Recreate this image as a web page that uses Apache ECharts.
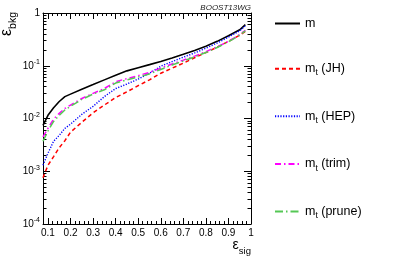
<!DOCTYPE html>
<html><head><meta charset="utf-8">
<script src="https://cdn.jsdelivr.net/npm/echarts@6/dist/echarts.min.js"></script>
<style>html,body{margin:0;padding:0;background:#fff}#c{width:407px;height:259px}</style>
</head><body><div id="c"></div>
<script>
// signal efficiency (x)
const effSig   = [0.078, 0.1, 0.125, 0.15, 0.175, 0.2, 0.25, 0.3, 0.35, 0.4, 0.45, 0.5, 0.55, 0.6, 0.65, 0.7, 0.75, 0.8, 0.85, 0.9, 0.95, 0.975];
// background efficiency (y) per tagger
const bkgM     = [0.0074, 0.0115, 0.016, 0.021, 0.026, 0.029, 0.036, 0.044, 0.054, 0.066, 0.080, 0.092, 0.105, 0.12, 0.14, 0.165, 0.195, 0.235, 0.29, 0.37, 0.48, 0.60];
const bkgJH    = [0.00075, 0.0013, 0.0019, 0.0028, 0.0038, 0.0055, 0.0085, 0.0128, 0.018, 0.025, 0.032, 0.042, 0.054, 0.072, 0.09, 0.112, 0.142, 0.178, 0.225, 0.29, 0.38, 0.45];
const bkgHEP   = [0.0013, 0.0022, 0.0037, 0.0048, 0.0065, 0.0078, 0.012, 0.017, 0.026, 0.037, 0.045, 0.056, 0.072, 0.098, 0.12, 0.145, 0.175, 0.215, 0.27, 0.35, 0.46, 0.57];
const bkgTrim  = [0.0045, 0.0065, 0.0098, 0.0125, 0.0155, 0.018, 0.024, 0.030, 0.037, 0.050, 0.057, 0.065, 0.075, 0.090, 0.108, 0.128, 0.152, 0.185, 0.23, 0.29, 0.39, 0.47];
const bkgPrune = [0.0037, 0.0058, 0.0088, 0.0115, 0.0145, 0.017, 0.023, 0.029, 0.035, 0.047, 0.054, 0.061, 0.070, 0.085, 0.103, 0.123, 0.147, 0.178, 0.222, 0.285, 0.38, 0.46];

const seriesNames = ['m', 'm_t (JH)', 'm_t (HEP)', 'm_t (trim)', 'm_t (prune)'];
const xMajor = [0.1, 0.2, 0.3, 0.4, 0.5, 0.6, 0.7, 0.8, 0.9, 1.0];
const xMinor = [0.08, 0.12, 0.14, 0.16, 0.18, 0.22, 0.24, 0.26, 0.28, 0.32, 0.34, 0.36, 0.38, 0.42, 0.44, 0.46, 0.48, 0.52, 0.54, 0.56, 0.58, 0.62, 0.64, 0.66, 0.68, 0.72, 0.74, 0.76, 0.78, 0.82, 0.84, 0.86, 0.88, 0.92, 0.94, 0.96, 0.98];
const yMajor = [1e-4, 1e-3, 1e-2, 1e-1, 1];
const yMinor = [2e-4,3e-4,4e-4,5e-4,6e-4,7e-4,8e-4,9e-4, 2e-3,3e-3,4e-3,5e-3,6e-3,7e-3,8e-3,9e-3, 2e-2,3e-2,4e-2,5e-2,6e-2,7e-2,8e-2,9e-2, 0.2,0.3,0.4,0.5,0.6,0.7,0.8,0.9];

const FONT = '"Liberation Sans", Arial, Helvetica, sans-serif';
const chart = echarts.init(document.getElementById('c'), null, {renderer: 'canvas'});

const X_MIN = 0.078, X_MAX = 1.0, Y_MIN = 1e-4, Y_MAX = 1;

function xAx(pos, major, withLabel, withLine) {
  return {
    type: 'value', position: pos, min: X_MIN, max: X_MAX,
    axisLine: {show: withLine, onZero: false, lineStyle: {color: '#000', width: 1}},
    axisTick: {show: true, inside: true, length: major ? 6 : 3, customValues: major ? xMajor : xMinor, lineStyle: {color: '#000', width: 1}},
    axisLabel: withLabel ? {show: true, customValues: xMajor, margin: 4, color: '#000', fontSize: 10, fontFamily: FONT,
      formatter: v => String(Math.round(v * 10) / 10)} : {show: false},
    splitLine: {show: false}
  };
}
function yAx(pos, major, withLabel, withLine) {
  return {
    type: 'log', logBase: 10, position: pos, min: Y_MIN, max: Y_MAX,
    axisLine: {show: withLine, onZero: false, lineStyle: {color: '#000', width: 1}},
    axisTick: {show: true, inside: true, length: major ? 7 : 3.5, customValues: major ? yMajor : yMinor, lineStyle: {color: '#000', width: 1}},
    axisLabel: withLabel ? {show: true, customValues: yMajor, margin: 3, color: '#000', fontSize: 10, fontFamily: FONT,
      formatter: v => { const e = Math.round(Math.log10(v)); return e === 0 ? '{b|1}' : '{b|10}{s|' + e + '}'; },
      rich: {b: {fontSize: 10, fontFamily: FONT, color: '#000', lineHeight: 14}, s: {fontSize: 7, fontFamily: FONT, color: '#000', verticalAlign: 'top', lineHeight: 14}}} : {show: false},
    splitLine: {show: false}
  };
}

const styles = [
  {color: '#000000', type: 'solid', width: 1.6},
  {color: '#ff0000', type: [4, 3], width: 1.5},
  {color: '#0000ff', type: [1.2, 1.5], width: 1.4},
  {color: '#ff00ff', type: [6, 3, 1.5, 3], width: 1.5},
  {color: '#55c755', type: [8, 3, 1.5, 3], width: 1.5}
];
const dataSets = [bkgM, bkgJH, bkgHEP, bkgTrim, bkgPrune];

const series = seriesNames.map((name, k) => ({
  name: name, type: 'line', xAxisIndex: 0, yAxisIndex: 0,
  symbol: 'none', showSymbol: false, smooth: false, animation: false,
  lineStyle: {color: styles[k].color, type: styles[k].type, width: styles[k].width},
  itemStyle: {color: styles[k].color},
  data: effSig.map((x, i) => [x, dataSets[k][i]])
}));

chart.setOption({
  backgroundColor: '#fff',
  animation: false,
  grid: {left: 43, top: 13, right: 156, bottom: 35, outerBoundsMode: 'none', containLabel: false},
  xAxis: [xAx('bottom', true, true, true), xAx('bottom', false, false, false), xAx('top', true, false, true), xAx('top', false, false, false)],
  yAxis: [yAx('left', true, true, true), yAx('left', false, false, false), yAx('right', true, false, true), yAx('right', false, false, false)],
  legend: {
    orient: 'vertical', left: 269, top: 12, itemWidth: 25, itemHeight: 14, itemGap: 32.15,
    data: seriesNames,
    itemStyle: {opacity: 0, borderWidth: 0},
    textStyle: {fontSize: 12.5, fontFamily: FONT, color: '#000',
      rich: {b: {fontSize: 12.5, fontFamily: FONT, color: '#000', lineHeight: 18}, t: {fontSize: 8.5, fontFamily: FONT, color: '#000', verticalAlign: 'bottom', lineHeight: 18}}},
    formatter: name => {
      if (name === 'm') return '{b|m}';
      const rest = name.slice(3);
      return '{b|m}{t|t}{b|' + rest + '}';
    }
  },
  graphic: [
    {type: 'text', right: 156, top: 4, style: {text: 'BOOST13WG', font: 'italic 8px ' + FONT, fill: '#222', textAlign: 'right'}},
    {type: 'text', x: 251, y: 238, style: {text: '{e|ε}{s|sig}', textAlign: 'right', textVerticalAlign: 'top',
      rich: {e: {fontSize: 14, fontFamily: FONT, fill: '#000', lineHeight: 14, verticalAlign: 'top'}, s: {fontSize: 9.5, fontFamily: FONT, fill: '#000', lineHeight: 18, verticalAlign: 'bottom'}}}},
    {type: 'text', x: 19, y: 12, rotation: Math.PI / 2, style: {text: '{e|ε}{s|bkg}', textAlign: 'right', textVerticalAlign: 'bottom',
      rich: {e: {fontSize: 16, fontFamily: FONT, fill: '#000', lineHeight: 16, verticalAlign: 'top'}, s: {fontSize: 10.5, fontFamily: FONT, fill: '#000', lineHeight: 20, verticalAlign: 'bottom'}}}}
  ],
  series: series
});
</script></body></html>
